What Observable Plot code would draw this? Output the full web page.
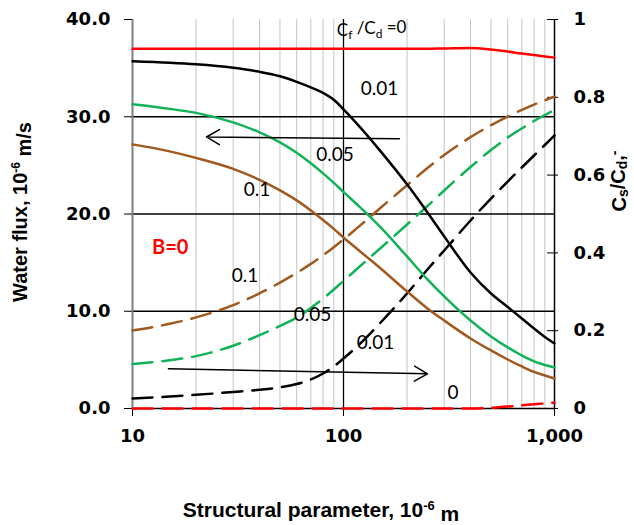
<!DOCTYPE html>
<html><head><meta charset="utf-8">
<script src="https://cdn.jsdelivr.net/npm/d3@7"></script>
<script src="https://cdn.jsdelivr.net/npm/@observablehq/plot@0.6"></script>
<style>html,body{margin:0;padding:0;background:#fff;} svg{display:block;}</style>
</head><body><div id="chart"></div>
<script>
// Structural parameter (10^-6 m)
const xs = [10,15,20,30,40,50,60,70,80,90,100,120,150,200,250,300,400,500,600,700,800,900,1000];
// Water flux (10^-6 m/s), left axis
const fluxB0 = [37.0,37.0,37.0,37.0,37.0,37.0,37.0,37.0,37.0,37.0,37.0,37.0,37.0,37.0,37.0,37.03,37.08,36.92,36.7,36.5,36.35,36.2,36.08];
const flux001 = [35.70,35.55,35.39,35.03,34.62,34.16,33.59,33.02,32.46,31.74,30.76,28.91,26.44,23.05,20.16,17.70,13.99,11.83,10.44,9.26,8.23,7.36,6.69];
const flux005 = [31.28,30.81,30.40,29.42,28.40,27.37,26.29,25.21,24.18,23.20,22.27,20.68,18.62,15.64,13.27,11.52,9.05,7.41,6.28,5.45,4.84,4.48,4.22];
const flux01 = [27.16,26.44,25.77,24.64,23.51,22.43,21.40,20.37,19.39,18.47,17.59,16.15,14.40,12.04,10.29,9.05,7.20,5.97,5.04,4.32,3.76,3.40,3.09];
// Cs/Cd (-), right axis
const cs0 = [0,0,0,0,0,0,0,0,0,0,0,0,0,0,0,0,0,0.002,0.005,0.008,0.011,0.013,0.015];
const cs001 = [0.0257,0.0308,0.0352,0.0424,0.0481,0.0545,0.0630,0.0746,0.0900,0.1080,0.1285,0.1671,0.2211,0.2956,0.3573,0.4062,0.4833,0.5398,0.5835,0.6195,0.6504,0.6774,0.7018];
const cs005 = [0.1144,0.1239,0.1347,0.1614,0.1884,0.2121,0.2339,0.2584,0.2828,0.3059,0.3278,0.3663,0.4126,0.4730,0.5206,0.5604,0.6208,0.6645,0.6967,0.7198,0.7391,0.7545,0.7674];
const cs01 = [0.2005,0.2177,0.2342,0.2658,0.2961,0.3237,0.3486,0.3717,0.3938,0.4147,0.4347,0.4707,0.5159,0.5740,0.6183,0.6517,0.6977,0.7283,0.7506,0.7676,0.7812,0.7923,0.8018];

// axes
const leftTicks = [0,10,20,30,40];
const rightTickValues = [0,0.2,0.4,0.6,0.8,1];
const rightTickLabels = ["0","0.2","0.4","0.6","0.8","1"];
const xTicks = [10,100,1000];
const xTickLabels = ["10","100","1,000"];
const minorX = [20,30,40,50,60,70,80,90,200,300,400,500,600,700,800,900];
const hGrid = [10,20,30];
const Y_RATIO = 40; // right-axis value 1 corresponds to left-axis value 40

// arrows
const arrowX1 = [184, 14.8];
const arrowY1 = [27.75, 4.08];
const arrowX2 = [22.4, 250];
const arrowY2 = [27.92, 3.57];

// labels
const labelText = ["0.01","0.05","0.1","0.1","0.05","0.01","0"];
const labelX = [148, 91.2, 38.9, 34.1, 71.3, 141.9, 330];
const labelY = [32.9, 26.1, 22.5, 13.6, 9.6, 6.7, 1.6];
const topLabel = "Cf /Cd =0";
const topLabelX = 136, topLabelY = 38.9;
const bLabel = "B=0";
const bLabelX = 15.1, bLabelY = 16.5;

const colors = {red:"#ff0000", black:"#000000", green:"#12b257", brown:"#a0591e"};

const row = (ys, scale) => xs.map((x,i) => ({x, y: ys[i]*scale}));
const solid = (ys, c) => Plot.line(row(ys,1), {x:"x", y:"y", stroke:c, strokeWidth:2.5, curve:"monotone-x"});
const dashed = (ys, c) => Plot.line(row(ys,Y_RATIO), {x:"x", y:"y", stroke:c, strokeWidth:2.5, strokeDasharray:"20,10", curve:"monotone-x"});

const arrows = arrowX1.map((d,i)=>({x1:d, y1:arrowY1[i], x2:arrowX2[i], y2:arrowY2[i]}));
const labels = labelText.map((t,i)=>({t, x:labelX[i], y:labelY[i]}));

const svg = Plot.plot({
  width:634, height:525,
  marginLeft:132, marginRight:80, marginTop:19, marginBottom:117,
  x:{type:"log", domain:[10,1000]},
  y:{domain:[0,40]},
  style:{fontFamily:"DejaVu Sans", fontSize:"18px", fontWeight:"bold", color:"#000", background:"#fff", overflow:"visible"},
  marks:[
    Plot.ruleX(minorX, {stroke:"#c4c4c4", strokeWidth:1}),
    Plot.ruleX([100], {stroke:"#000", strokeWidth:1.3}),
    Plot.ruleY(hGrid, {stroke:"#000", strokeWidth:1.5}),
    Plot.ruleY([0], {stroke:"#000", strokeWidth:1.5}),
    Plot.ruleX([10], {stroke:"#7f7f7f", strokeWidth:2}),
    Plot.ruleX([1000], {stroke:"#000", strokeWidth:1.5}),
    Plot.ruleY(rightTickValues.map(v=>v*Y_RATIO), {x1:927, x2:1000, stroke:"#000", strokeWidth:1}),
    Plot.axisY({anchor:"left", ticks:leftTicks, tickFormat:d3.format(".1f"), tickSize:8, tickPadding:14, label:null}),
    Plot.axisY({anchor:"right", ticks:rightTickValues.map(v=>v*Y_RATIO),
      tickFormat:d => rightTickLabels[rightTickValues.findIndex(v=>Math.abs(v*Y_RATIO-d)<1e-9)],
      tickSize:3, tickPadding:16, label:null}),
    Plot.axisX({ticks:xTicks, tickFormat:d => xTickLabels[xTicks.indexOf(d)], tickSize:8, tickPadding:13, label:null}),
    dashed(cs01, colors.brown),
    dashed(cs005, colors.green),
    dashed(cs001, colors.black),
    dashed(cs0, colors.red),
    solid(flux01, colors.brown),
    solid(flux005, colors.green),
    solid(flux001, colors.black),
    solid(fluxB0, colors.red),
    Plot.arrow(arrows, {x1:"x1", y1:"y1", x2:"x2", y2:"y2", stroke:"#000", strokeWidth:1.5, headLength:15, headAngle:60}),
    Plot.text(labels, {x:"x", y:"y", text:"t", fontFamily:"Lato", fontSize:19, fontWeight:"normal", fill:"#000"}),
    Plot.text([topLabel], {x:()=>topLabelX, y:()=>topLabelY, text:d=>d, fontFamily:"Lato", fontSize:17, fontWeight:"normal", fill:"#000"}),
    Plot.text([bLabel], {x:()=>bLabelX, y:()=>bLabelY, text:d=>d, fontFamily:"Lato", fontSize:20, fontWeight:"bold", fill:colors.red})
  ]
});

const s = d3.select(svg);
// subscripts in top label
s.selectAll("text").filter(function(){return this.textContent === topLabel;}).each(function(){
  const t = d3.select(this);
  t.text(null);
  t.append("tspan").text("C");
  t.append("tspan").attr("dy","0.3em").attr("font-size","12").text("f");
  t.append("tspan").attr("dy","-0.3em").text(" /C");
  t.append("tspan").attr("dy","0.3em").attr("font-size","12").text("d");
  t.append("tspan").attr("dy","-0.3em").text(" =0");
});

const titleFont = "Liberation Sans, Arial, sans-serif";
// bottom title
const bt = s.append("text").attr("x",321).attr("y",517).attr("text-anchor","middle")
  .attr("font-family",titleFont).attr("font-size",21).attr("font-weight","bold").attr("fill","#000");
bt.append("tspan").text("Structural parameter, 10");
bt.append("tspan").attr("dy","-0.55em").attr("font-size",13).text("-6");
bt.append("tspan").attr("dy","0.55em").text(" m");
// left title
const lt = s.append("text").attr("transform","translate(27,212) rotate(-90)").attr("text-anchor","middle")
  .attr("font-family",titleFont).attr("font-size",20).attr("font-weight","bold").attr("fill","#000");
lt.append("tspan").text("Water flux, 10");
lt.append("tspan").attr("dy","-0.55em").attr("font-size",12).text("-6");
lt.append("tspan").attr("dy","0.55em").text(" m/s");
// right title
const rt = s.append("text").attr("transform","translate(626,181) rotate(-90)").attr("text-anchor","middle")
  .attr("font-family",titleFont).attr("font-size",20).attr("font-weight","bold").attr("fill","#000");
rt.append("tspan").text("C");
rt.append("tspan").attr("dy","0.15em").attr("font-size",14).text("s");
rt.append("tspan").attr("dy","-0.15em").text("/C");
rt.append("tspan").attr("dy","0.15em").attr("font-size",14).text("d");
rt.append("tspan").attr("dy","-0.15em").text(",");
rt.append("tspan").attr("dy","-0.4em").attr("font-size",14).text("-");

document.getElementById("chart").appendChild(svg);
</script>
</body></html>
